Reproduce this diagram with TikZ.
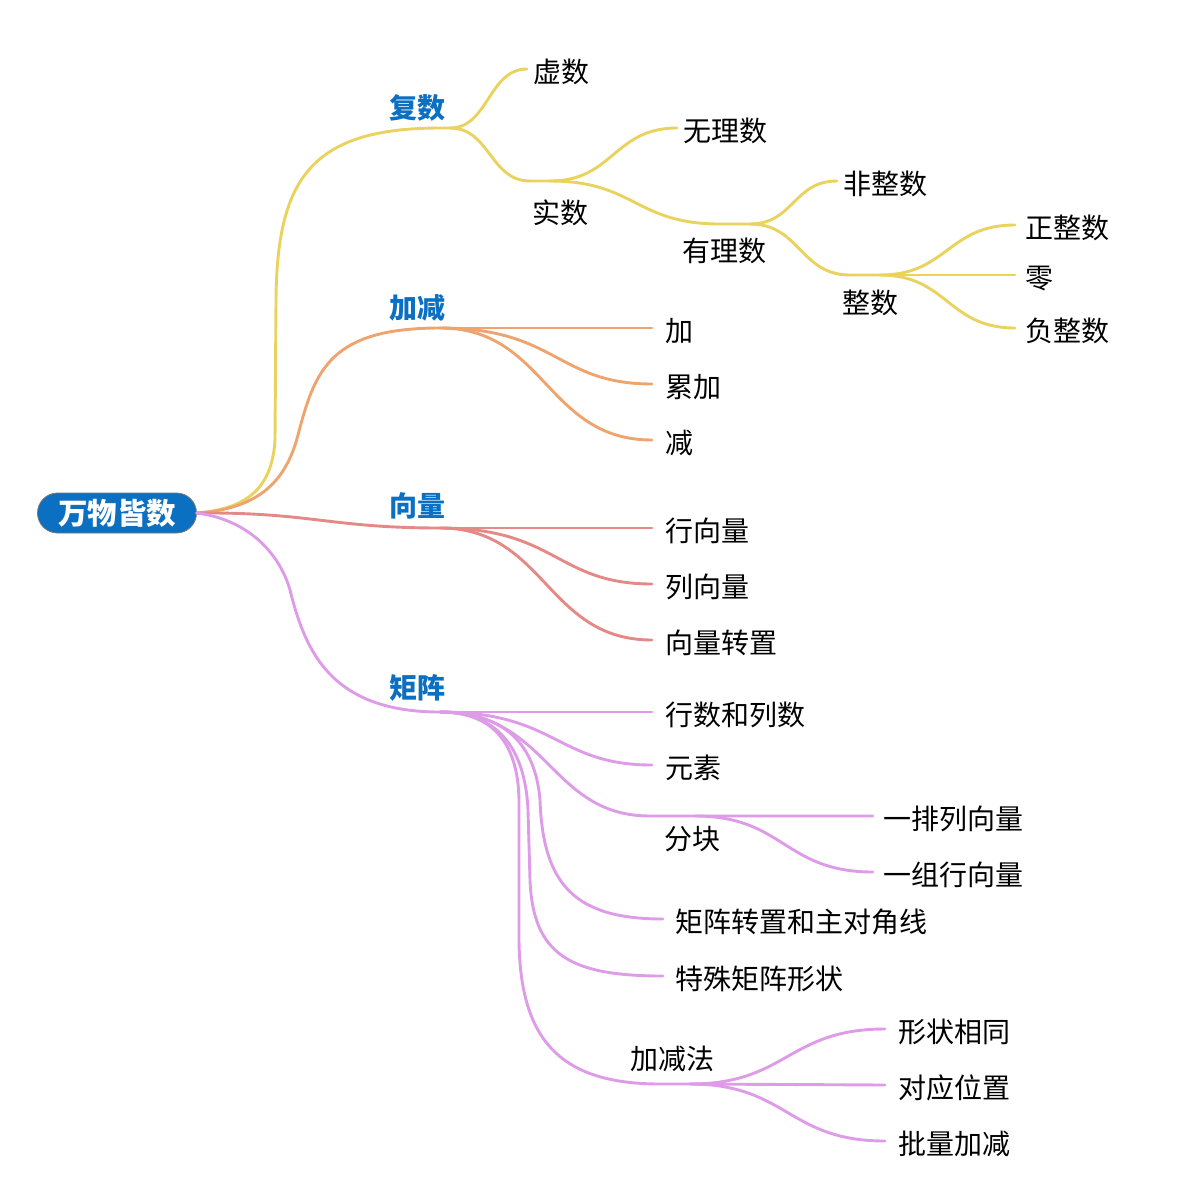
\documentclass[tikz,border=0pt]{standalone}
\usepackage{fontspec}
\setmainfont{Noto Sans CJK SC}
\usetikzlibrary{calc}
\definecolor{cy}{RGB}{233,211,94}
\definecolor{co}{RGB}{239,164,110}
\definecolor{cr}{RGB}{229,137,134}
\definecolor{cp}{RGB}{222,155,232}
\definecolor{cb}{RGB}{11,111,194}
\definecolor{cg}{RGB}{120,120,120}
\begin{document}
\begin{tikzpicture}[x=1pt,y=-1pt,
  every node/.style={font=\fontsize{28}{30}\selectfont, inner sep=0pt, text height=30pt, text depth=4pt},
  leaf/.style={anchor=west, inner xsep=#1}, leaf/.default=12pt,
  lbl/.style={text height=26pt, text depth=4pt},
  mainlbl/.style={lbl, text=cb, font=\fontsize{28}{30}\selectfont\bfseries},
  conn/.style={line width=2.9pt, line cap=round},
  sc/.style={to path={let \p1=(\tikztostart),\p2=(\tikztotarget),\n1={\x1+#1*(\x2-\x1)} in .. controls (\n1,\y1) and (\n1,\y2) .. (\tikztotarget)}},
  sc/.default=0.5]
\useasboundingbox (0,0) rectangle (1200,1200);

% root
\node[fill=cb, draw=cg, line width=0.8pt, rounded corners=20pt, minimum width=159pt, minimum height=40pt, text=white, font=\fontsize{29.5}{30}\selectfont\bfseries, text height=26pt, text depth=3pt] (root) at (117,513) {万物皆数};

% main labels
\node[mainlbl] (fushu) at (417,107) {复数};
\node[mainlbl] (jiajian) at (417,307) {加减};
\node[mainlbl] (xiangliang) at (417,505) {向量};
\node[mainlbl] (juzhen) at (417,687) {矩阵};

% junction coordinates
\coordinate (fsE) at (440,128);
\coordinate (jFS) at (450,128);
\coordinate (jJJ) at (440,328);
\coordinate (jXL) at (440,528);
\coordinate (jJZ) at (440,712);
\coordinate (ssE) at (530,181);
\coordinate (jSS) at (550,181);
\coordinate (ylE) at (720,224);
\coordinate (jYL) at (750,224);
\coordinate (zsE) at (850,275);
\coordinate (jZS) at (880,275);
\coordinate (fkE) at (650,816);
\coordinate (jFK) at (695,816);
\coordinate (jfE) at (660,1084);
\coordinate (jJF) at (690,1084);

% yellow subtree text
\node[leaf=6pt] (xs) at (527,69) {虚数};
\node[lbl] (shishu) at (560,212) {实数};
\node[leaf=6pt] (wl) at (677,128) {无理数};
\node[lbl] (youli) at (724,250) {有理数};
\node[leaf=6pt] (fz) at (837,181) {非整数};
\node[lbl] (zhengshu) at (870,302) {整数};
\node[leaf=10pt] (zz) at (1015,225) {正整数};
\node[leaf=10pt] (ling) at (1015,275) {零};
\node[leaf=10pt] (fu) at (1015,328) {负整数};

% orange
\node[leaf=13pt] (jia) at (652,328) {加};
\node[leaf=13pt] (lj) at (652,384) {累加};
\node[leaf=13pt] (jian) at (652,440) {减};

% red
\node[leaf=13pt] (hx) at (652,528) {行向量};
\node[leaf=13pt] (lx) at (652,584) {列向量};
\node[leaf=13pt] (xlzz) at (652,640) {向量转置};

% purple
\node[leaf=13pt] (hs) at (652,712) {行数和列数};
\node[leaf=13pt] (ys) at (652,765) {元素};
\node[lbl] (fenkuai) at (692,838) {分块};
\node[leaf=10pt] (ypl) at (873,816) {一排列向量};
\node[leaf=10pt] (yzh) at (873,872) {一组行向量};
\node[leaf=12pt] (jzzz) at (663,919) {矩阵转置和主对角线};
\node[leaf=12pt] (tszx) at (663,976) {特殊矩阵形状};
\node[lbl] (jjf) at (672,1058) {加减法};
\node[leaf=13pt] (xzxt) at (885,1029) {形状相同};
\node[leaf=13pt] (dywz) at (885,1085) {对应位置};
\node[leaf=13pt] (plj) at (885,1141) {批量加减};

% root branches
\draw[conn,cy] (root.east) .. controls (245,509) and (272,490) .. (275,440) -- (276,300) .. controls (277,180) and (310,128) .. (fsE) -- (jFS);
\draw[conn,co] (root.east) .. controls (255,509) and (285,485) .. (298,435) .. controls (315,370) and (330,328) .. (jJJ);
\draw[conn,cr] (root.east) .. controls (310,512) and (330,528) .. (jXL);
\draw[conn,cp] (root.east) .. controls (250,520) and (280,555) .. (290,590) .. controls (305,650) and (330,712) .. (jJZ);

% yellow connectors
\draw[conn,cy] (jFS) to[sc] (xs.west);
\draw[conn,cy] (jFS) to[sc] (ssE) -- (jSS);
\draw[conn,cy] (jSS) to[sc] (wl.west);
\draw[conn,cy] (jSS) to[sc] (ylE) -- (jYL);
\draw[conn,cy] (jYL) to[sc] (fz.west);
\draw[conn,cy] (jYL) to[sc] (zsE) -- (jZS);
\draw[conn,cy] (jZS) to[sc] (zz.west);
\draw[conn,cy] (jZS) -- (ling.west);
\draw[conn,cy] (jZS) to[sc] (fu.west);

% orange connectors
\draw[conn,co] (jJJ) -- (jia.west);
\draw[conn,co] (jJJ) to[sc=0.55] (lj.west);
\draw[conn,co] (jJJ) to[sc] (jian.west);

% red connectors
\draw[conn,cr] (jXL) -- (hx.west);
\draw[conn,cr] (jXL) to[sc=0.55] (lx.west);
\draw[conn,cr] (jXL) to[sc] (xlzz.west);

% purple connectors
\draw[conn,cp] (jJZ) -- (hs.west);
\draw[conn,cp] (jJZ) to[sc=0.55] (ys.west);
\draw[conn,cp] (jJZ) to[sc=0.52] (fkE) -- (jFK) -- (ypl.west);
\draw[conn,cp] (jFK) to[sc] (yzh.west);
\draw[conn,cp] (jJZ) .. controls (500,712) and (535,740) .. (540,800) .. controls (543,885) and (575,919) .. (jzzz.west);
\draw[conn,cp] (jJZ) .. controls (495,712) and (525,745) .. (528,810) -- (530,880) .. controls (533,955) and (570,976) .. (tszx.west);
\draw[conn,cp] (jJZ) .. controls (490,712) and (518,740) .. (519,800) -- (519,940) .. controls (520,1040) and (560,1084) .. (jfE) -- (jJF);
\draw[conn,cp] (jJF) to[sc] (xzxt.west);
\draw[conn,cp] (jJF) -- (dywz.west);
\draw[conn,cp] (jJF) to[sc] (plj.west);
\end{tikzpicture}
\end{document}
